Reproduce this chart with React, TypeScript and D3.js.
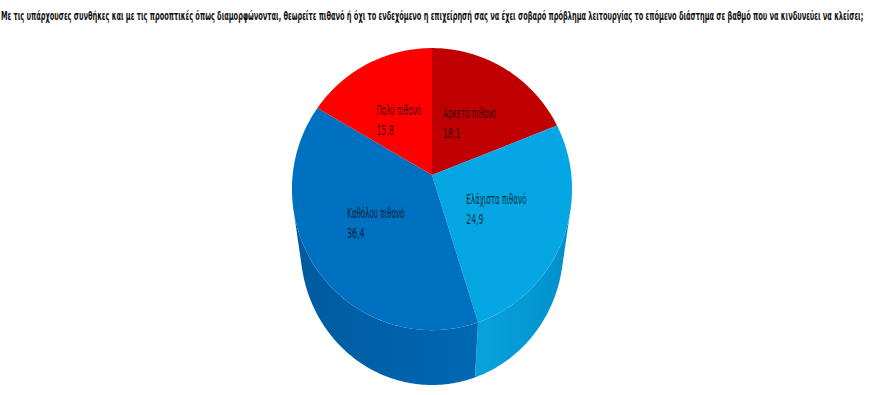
import React from "react";
import * as d3 from "d3";

const title =
  "Με τις υπάρχουσες συνθήκες και με τις προοπτικές όπως διαμορφώνονται, θεωρείτε πιθανό ή όχι το ενδεχόμενο η επιχείρησή σας να έχει σοβαρό πρόβλημα λειτουργίας το επόμενο διάστημα σε βαθμό που να κινδυνεύει να κλείσει;";
const categories = ["Αρκετά πιθανό", "Ελάχιστα πιθανό", "Καθόλου πιθανό", "Πολύ πιθανό"];
const values = [18.1, 24.9, 36.4, 15.8];
const valueLabels = ["18,1", "24,9", "36,4", "15,8"];

const topColors = ["#C00000", "#04A7E4", "#0070C0", "#FF0000"];
const sideColorsA = ["#9a0000", "#0aa2de", "#005a9e", "#cc0000"];
const sideColorsB = ["#9a0000", "#0090cc", "#0068b4", "#cc0000"];

const W = 880;
const Hpx = 395;
const cx = 432;
const cy = 175;
const phi = (50 * Math.PI) / 180;
const D = 6.43;
const kx = 896;
const ky = 1172;
const depth = 0.536;

const font = "'Liberation Sans Narrow', 'DejaVu Sans Condensed', 'Roboto Condensed', sans-serif";

function project(theta: number, r: number, Y: number): [number, number] {
  const X = r * Math.sin(theta);
  const Zb = r * Math.cos(theta);
  const yc = Y * Math.cos(phi) + Zb * Math.sin(phi);
  const z = D + Zb * Math.cos(phi) - Y * Math.sin(phi);
  return [cx + (kx * X) / z, cy - (ky * yc) / z];
}

function rimPoints(a: number, b: number, Y: number): [number, number][] {
  const n = Math.max(2, Math.ceil(((b - a) * 180) / Math.PI));
  const pts: [number, number][] = [];
  for (let i = 0; i <= n; i++) pts.push(project(a + ((b - a) * i) / n, 1, Y));
  return pts;
}

const line = d3.line<[number, number]>().curve(d3.curveLinearClosed);

const nameScale = 0.57;
const valueScale = 0.62;

function Label({ x, y, name, value }: { x: number; y: number; name: string; value: string }) {
  const ref = React.useRef<SVGTextElement>(null);
  const [w, setW] = React.useState(0);
  React.useLayoutEffect(() => {
    if (ref.current) setW(ref.current.getComputedTextLength() * nameScale);
  }, [name]);
  return (
    <g transform={`translate(${x - w / 2},${y})`} fontFamily={font} fontSize={14} fill="#000" fillOpacity={0.75}>
      <text ref={ref} transform={`scale(${nameScale},1)`} x={0} y={-2}>
        {name}
      </text>
      <text transform={`scale(${valueScale},1)`} x={0} y={18}>
        {value}
      </text>
    </g>
  );
}

function Title({ text, width }: { text: string; width: number }) {
  const ref = React.useRef<SVGTextElement>(null);
  const [sx, setSx] = React.useState(0.5);
  React.useLayoutEffect(() => {
    if (ref.current) {
      const len = ref.current.getComputedTextLength();
      if (len > 0) setSx(width / len);
    }
  }, [text, width]);
  return (
    <g transform={`translate(1,20) scale(${sx},1)`}>
      <text ref={ref} x={0} y={0} fontFamily={font} fontWeight="bold" fontSize={12} fill="#111">
        {text}
      </text>
    </g>
  );
}

export default function App() {
  const arcs = d3
    .pie<number>()
    .sort(null)
    .startAngle(0)
    .endAngle(2 * Math.PI)(values);

  const tVis = Math.acos(-1 / (D * Math.cos(phi)));
  const vis0 = tVis;
  const vis1 = 2 * Math.PI - tVis;

  return (
    <svg width={W} height={Hpx} style={{ position: "absolute", left: 0, top: 0, background: "#fff" }}>
      <defs>
        {arcs.map((a, i) => (
          <linearGradient key={i} id={`side${i}`} x1="0" x2="1" y1="0" y2="0">
            <stop offset="0%" stopColor={sideColorsA[i]} />
            <stop offset="100%" stopColor={sideColorsB[i]} />
          </linearGradient>
        ))}
      </defs>
      <rect width={W} height={Hpx} fill="#fff" />
      <Title text={title} width={862} />
      {arcs.map((a, i) => {
        const s = Math.max(a.startAngle, vis0);
        const e = Math.min(a.endAngle, vis1);
        if (e <= s) return null;
        const top = rimPoints(s, e, 0);
        const bot = rimPoints(s, e, -depth).reverse();
        return <path key={`s${i}`} d={line([...top, ...bot]) || ""} fill={`url(#side${i})`} />;
      })}
      {arcs.map((a, i) => {
        const pts = [project(0, 0, 0), ...rimPoints(a.startAngle, a.endAngle, 0)];
        return <path key={`t${i}`} d={line(pts) || ""} fill={topColors[i]} />;
      })}
      {arcs.map((a, i) => {
        const mid = (a.startAngle + a.endAngle) / 2;
        const [lx, ly] = project(mid, 0.5, 0);
        return <Label key={`l${i}`} x={lx} y={ly} name={categories[i]} value={valueLabels[i]} />;
      })}
    </svg>
  );
}
